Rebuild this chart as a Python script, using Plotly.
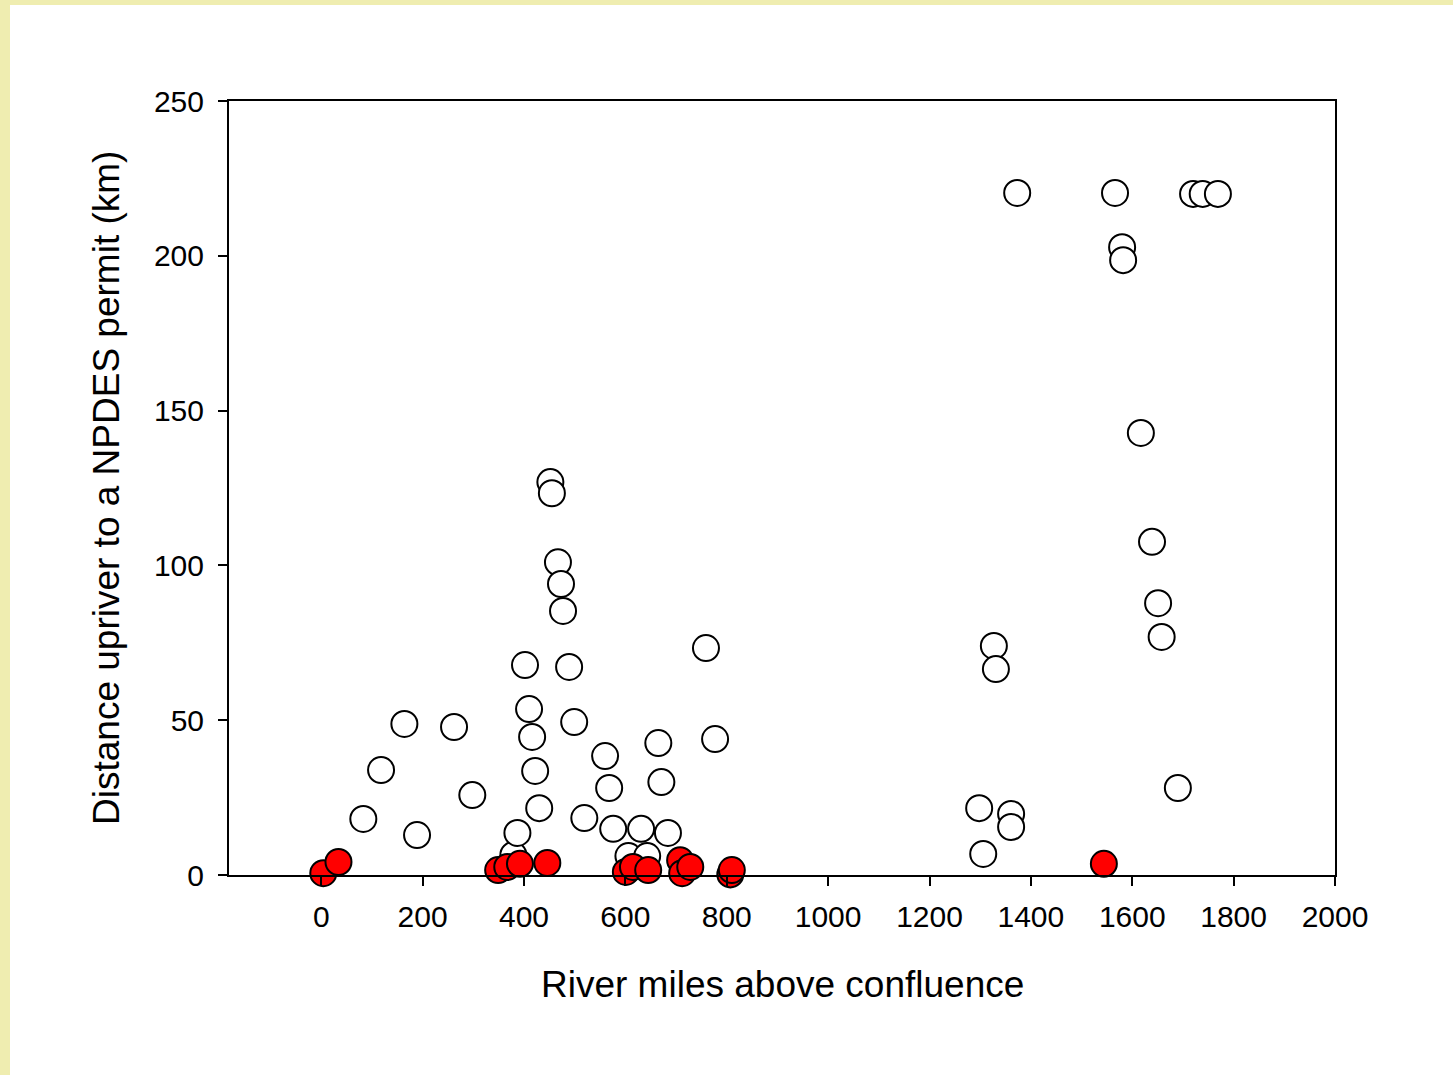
import plotly.graph_objects as go

# Open circles (white)
open_x = [83, 118, 164, 189, 262, 298, 379, 387, 402, 410, 416, 422, 430, 452, 455, 467, 473, 477,
          489, 499, 519, 560, 568, 576, 606, 631, 643, 665, 671, 684, 759, 777,
          1298, 1306, 1327, 1331, 1361, 1361, 1373, 1566, 1580, 1582, 1617, 1639, 1651, 1658, 1690,
          1720, 1739, 1769]
open_y = [18.1, 33.9, 48.8, 12.9, 47.8, 25.8, 6.5, 13.6, 67.8, 53.6, 44.6, 33.6, 21.6, 126.9, 123.3, 101, 94, 85.3,
          67.2, 49.4, 18.4, 38.4, 28.1, 14.9, 6.1, 14.9, 6.1, 42.6, 30.0, 13.6, 73.3, 43.9,
          21.6, 6.8, 74, 66.5, 19.7, 15.5, 220.3, 220.3, 202.8, 198.6, 142.8, 107.6, 87.8, 76.9, 28.1,
          220, 220, 220]

# Filled circles (red)
red_x = [4, 34, 349, 367, 392, 446, 601, 615, 645, 708, 712, 728, 807, 810, 1544]
red_y = [0.6, 4.2, 1.6, 2.6, 3.6, 3.9, 1.0, 2.6, 1.6, 4.8, 0.6, 2.6, 0.2, 1.6, 3.6]

x_ticks = [0, 200, 400, 600, 800, 1000, 1200, 1400, 1600, 1800, 2000]
y_ticks = [0, 50, 100, 150, 200, 250]

FONT = "Liberation Sans, Arial, sans-serif"

fig = go.Figure()
fig.add_trace(go.Scatter(x=open_x, y=open_y, mode="markers",
                         marker=dict(size=26, color="white", line=dict(color="black", width=2)),
                         showlegend=False, cliponaxis=False))
fig.add_trace(go.Scatter(x=red_x, y=red_y, mode="markers",
                         marker=dict(size=26, color="#FF0000", line=dict(color="black", width=2)),
                         showlegend=False, cliponaxis=False))

L, R, T, B = 229, 1335, 101, 875
W, H = 1453, 1075
pw, ph = R - L, B - T

def px_x(p):
    return (p - L) / pw

def px_y(p):
    return (B - p) / ph

# yellow frame strips (left and top)
fig.add_shape(type="rect", xref="paper", yref="paper", x0=px_x(-5), x1=px_x(10), y0=px_y(1100), y1=px_y(-5),
              fillcolor="#EFEDB0", line=dict(width=0), layer="below")
fig.add_shape(type="rect", xref="paper", yref="paper", x0=px_x(-5), x1=px_x(1460), y0=px_y(5), y1=px_y(-5),
              fillcolor="#EFEDB0", line=dict(width=0), layer="below")

fig.add_annotation(text="River miles above confluence", xref="paper", yref="paper",
                   x=0.5, y=px_y(984), xanchor="center", yanchor="middle", showarrow=False,
                   font=dict(family=FONT, size=37, color="black"))
fig.add_annotation(text="Distance upriver to a NPDES permit (km)", xref="paper", yref="paper",
                   x=px_x(106), y=px_y(488), xanchor="center", yanchor="middle", showarrow=False,
                   textangle=-90, font=dict(family=FONT, size=37, color="black"))

fig.update_layout(
    width=W, height=H,
    margin=dict(l=L, r=W - R, t=T, b=H - B),
    paper_bgcolor="white", plot_bgcolor="white",
    font=dict(family=FONT, color="black"),
    xaxis=dict(range=[-182, 2000], tickvals=x_ticks, ticktext=[str(v) for v in x_ticks],
               showgrid=False, zeroline=False, showline=True, linecolor="black", linewidth=2,
               mirror=True, ticks="outside", ticklen=9, tickwidth=2, tickcolor="black",
               tickfont=dict(family=FONT, size=30, color="black"), ticklabelstandoff=5),
    yaxis=dict(range=[0, 250], tickvals=y_ticks, ticktext=[str(v) for v in y_ticks],
               showgrid=False, zeroline=False, showline=True, linecolor="black", linewidth=2,
               mirror=True, ticks="outside", ticklen=9, tickwidth=2, tickcolor="black",
               tickfont=dict(family=FONT, size=30, color="black"), ticklabelstandoff=8),
)

fig.write_html("out.html", config={"displayModeBar": False},
               post_script="document.body.style.margin='0';document.body.style.padding='0';")
